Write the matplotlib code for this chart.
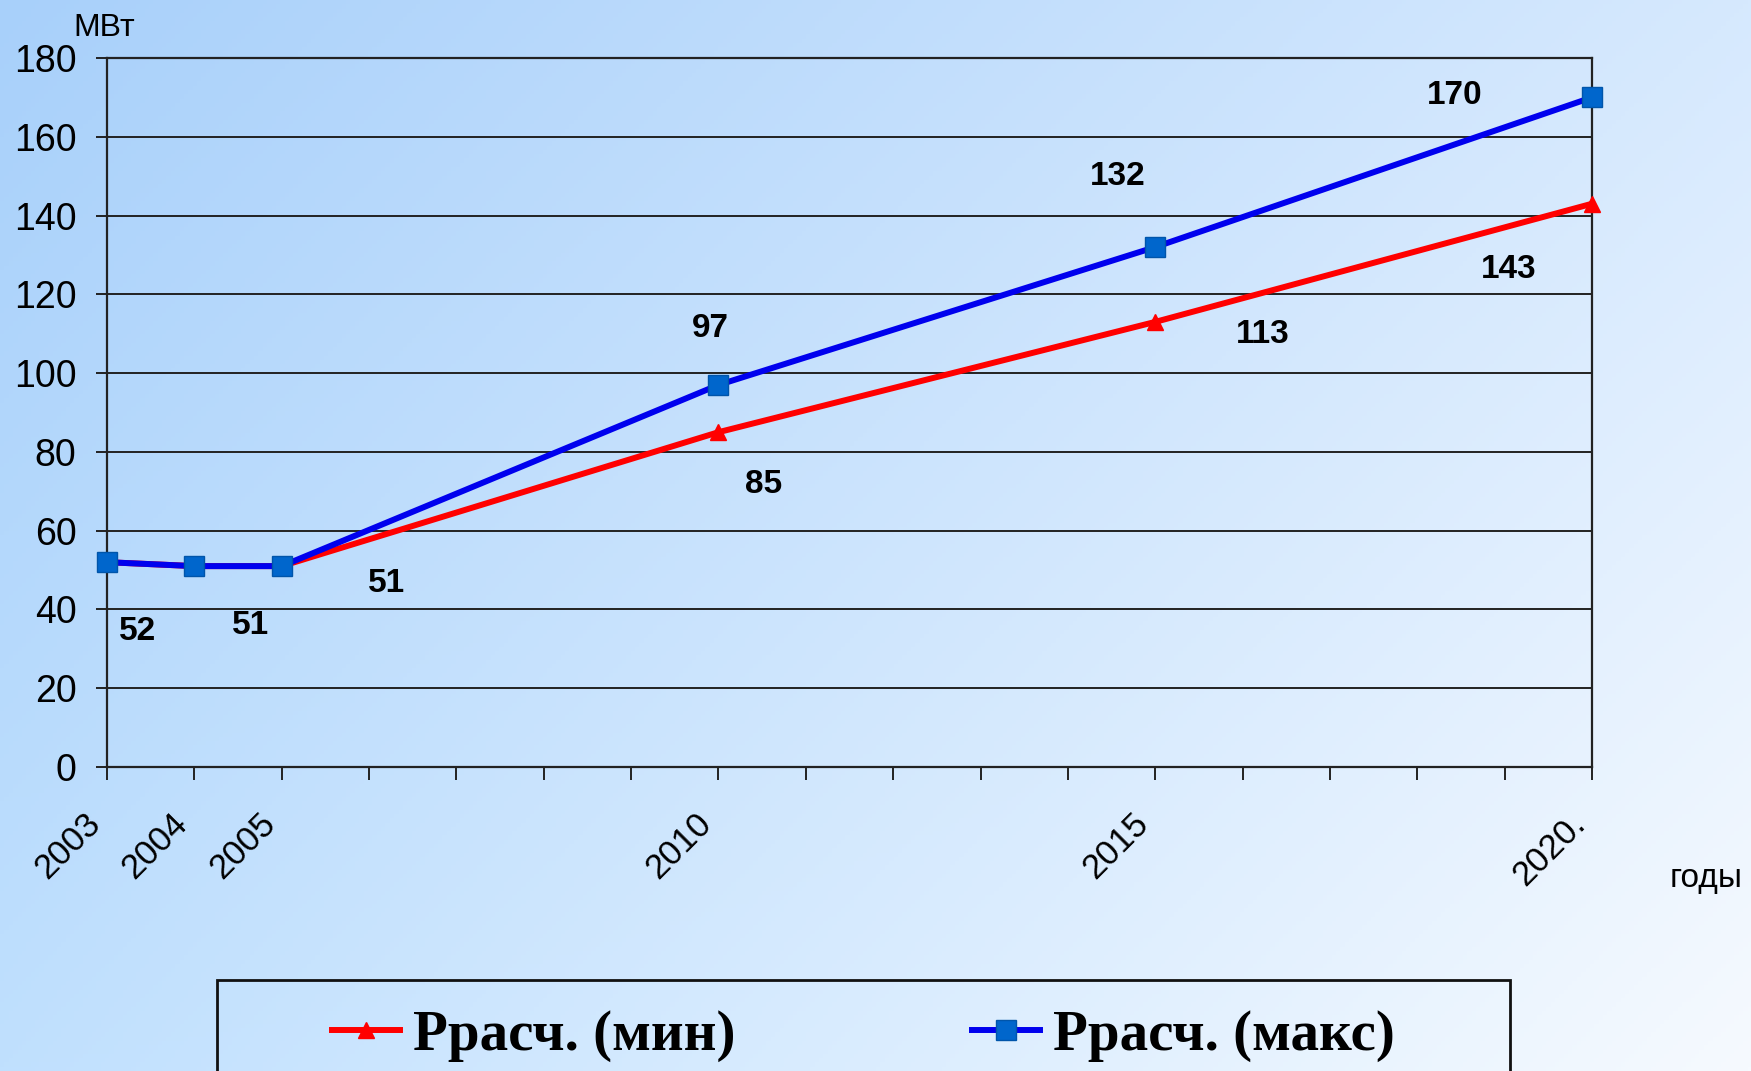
import numpy as np
import matplotlib
matplotlib.use("Agg")
import matplotlib.pyplot as plt
from matplotlib.patches import Rectangle

# Data
years = [2003, 2004, 2005, 2010, 2015, 2020]
p_min = [52, 51, 51, 85, 113, 143]
p_max = [52, 51, 51, 97, 132, 170]
year_labels = ["2003", "2004", "2005", "2010", "2015", "2020."]
y_ticks = [0, 20, 40, 60, 80, 100, 120, 140, 160, 180]
series_names = ["Ррасч. (мин)", "Ррасч. (макс)"]

# Label offsets in pixels (dx, dy) relative to each point
min_label_offsets = [(31, -69), (56, -59), (105, -17), (45, -52), (108, -13), (-83, -66)]
max_label_offsets = [None, None, None, (-8, 56), (-37, 71), (-137, 2)]

W, H = 1751, 1071
fig = plt.figure(figsize=(W / 100, H / 100), dpi=100)

# Soft blue diagonal gradient background
bg = fig.add_axes([0, 0, 1, 1], zorder=-10)
bg.set_axis_off()
tl = np.array([168, 208, 250]) / 255
tr = np.array([214, 233, 254]) / 255
bl = np.array([192, 224, 254]) / 255
br = np.array([246, 250, 255]) / 255
u = np.linspace(0, 1, 400)[None, :, None]
v = np.linspace(0, 1, 250)[:, None, None]
img = (1 - u) * (1 - v) * tl + u * (1 - v) * tr + (1 - u) * v * bl + u * v * br
bg.imshow(np.clip(img, 0, 1), aspect="auto", extent=[0, 1, 0, 1], origin="upper")
bg.set_xlim(0, 1)
bg.set_ylim(0, 1)

ax = fig.add_axes([107 / W, 1 - 767 / H, (1592 - 107) / W, (767 - 58) / H])
ax.patch.set_alpha(0)

ax.plot(years, p_min, color="#FF0000", lw=4.3, marker="^", ms=11,
        mfc="#FF0000", mec="#FF0000", zorder=3, clip_on=False, label=series_names[0])
ax.plot(years, p_max, color="#0000EE", lw=4.3, marker="s", ms=14,
        mfc="#0066CC", mec="#0055AA", mew=1, zorder=4, clip_on=False, label=series_names[1])

lab_font = dict(family="Liberation Sans", fontsize=24, fontweight="bold", color="black")
for x, yv, off in zip(years, p_min, min_label_offsets):
    if off is not None:
        ax.annotate(str(yv), (x, yv), xytext=off, textcoords="offset pixels",
                    ha="center", va="center", zorder=6, **lab_font)
for x, yv, off in zip(years, p_max, max_label_offsets):
    if off is not None:
        ax.annotate(str(yv), (x, yv), xytext=off, textcoords="offset pixels",
                    ha="center", va="center", zorder=6, **lab_font)

ax.set_xlim(years[0], years[-1])
ax.set_ylim(y_ticks[0], y_ticks[-1])
ax.set_yticks(y_ticks)
ax.set_xticks(years)
ax.set_xticks(range(years[0], years[-1] + 1), minor=True)
ax.set_xticklabels(year_labels, rotation=45, ha="right", va="top",
                   rotation_mode="default", family="Liberation Sans", fontsize=25)
ax.set_yticklabels([str(t) for t in y_ticks], family="Liberation Sans", fontsize=27)

ax.grid(axis="y", color="#222222", lw=1.4, zorder=1)
for s in ax.spines.values():
    s.set_color("#222222")
    s.set_linewidth(1.6)
ax.tick_params(axis="y", length=8, width=1.4, color="#222222", pad=14)
ax.tick_params(axis="x", which="both", length=9, width=1.4, color="#222222", pad=20)

fig.text(73 / W, 1 - 36 / H, "МВт", family="Liberation Sans", fontsize=23,
         ha="left", va="baseline")
fig.text(1706 / W, 1 - 878 / H, "годы", family="Liberation Sans", fontsize=24,
         ha="center", va="center")

# Legend frame running past the bottom edge
fig.add_artist(Rectangle((217 / W, -0.05), (1510 - 217) / W, 0.05 + 1 - 980 / H,
                         transform=fig.transFigure, fill=False, ec="#111111", lw=2))
handles, labels = ax.get_legend_handles_labels()
fig.legend(handles, labels, loc="center left", bbox_to_anchor=(332 / W, 1 - 1036 / H),
           ncol=2, frameon=False, borderpad=0, borderaxespad=0,
           handlelength=1.2, handletextpad=0.22, columnspacing=4.15,
           prop=dict(family="Liberation Serif", weight="bold", size=41))

fig.savefig("out.png", dpi=100)
